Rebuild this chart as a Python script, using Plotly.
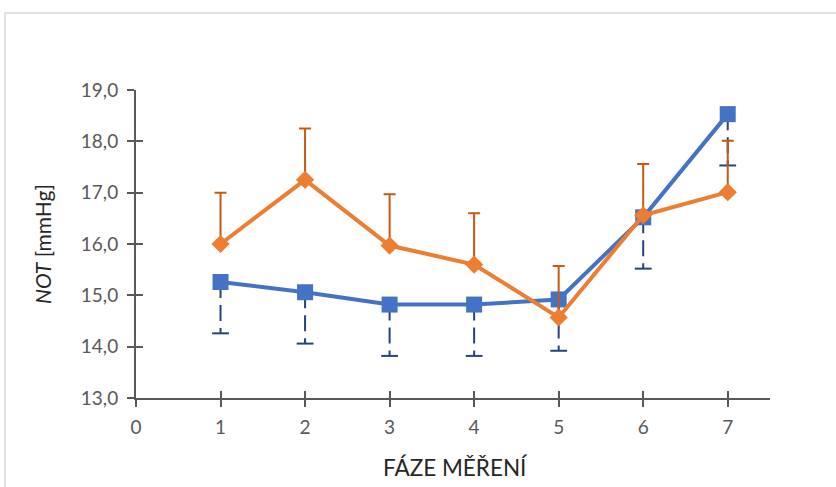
import plotly.graph_objects as go

# Measurement phases and mean values
phase = [1, 2, 3, 4, 5, 6, 7]
series_a = [15.26, 15.06, 14.82, 14.82, 14.92, 16.52, 18.53]
series_b = [16.00, 17.25, 15.97, 15.60, 14.57, 16.56, 17.01]
err_a = [1.0, 1.0, 1.0, 1.0, 1.0, 1.0, 1.0]
err_b = [1.0, 1.0, 1.0, 1.0, 1.0, 1.0, 1.0]

x_ticks = [0, 1, 2, 3, 4, 5, 6, 7]
y_ticks = [13, 14, 15, 16, 17, 18, 19]
y_tick_text = ["13,0", "14,0", "15,0", "16,0", "17,0", "18,0", "19,0"]

BLUE = "#4472C4"
BLUE_DARK = "#264478"
ORANGE = "#ED7D31"
ORANGE_DARK = "#C55A11"
AXIS = "#595959"
FONT = "Lato"

W, H = 836, 487
ML, MR, MT, MB = 136, 66, 90, 89

fig = go.Figure()

# dashed downward error bars for series A (stems + caps)
stem_x, stem_y = [], []
for x, y, e in zip(phase, series_a, err_a):
    stem_x += [x, x, None]
    stem_y += [y, y - e, None]
fig.add_trace(go.Scatter(
    x=stem_x, y=stem_y, mode="lines",
    line=dict(color=BLUE_DARK, width=2, dash="16px,7px"),
    hoverinfo="skip", showlegend=False,
))
fig.add_trace(go.Scatter(
    x=phase, y=[y - e for y, e in zip(series_a, err_a)], mode="markers",
    marker=dict(symbol="line-ew", size=12, line=dict(color=BLUE_DARK, width=2)),
    hoverinfo="skip", showlegend=False,
))

# series A line with square markers
fig.add_trace(go.Scatter(
    x=phase, y=series_a, mode="lines+markers",
    line=dict(color=BLUE, width=4),
    marker=dict(symbol="square", size=16, color=BLUE),
    showlegend=False,
))

# series B line with diamond markers and upward error bars
fig.add_trace(go.Scatter(
    x=phase, y=series_b, mode="lines+markers",
    line=dict(color=ORANGE, width=4),
    marker=dict(symbol="diamond", size=14, color=ORANGE),
    error_y=dict(type="data", array=err_b, arrayminus=[0] * len(err_b),
                 color=ORANGE_DARK, thickness=2, width=6),
    showlegend=False,
))

tick_font = dict(family=FONT, size=19, color=AXIS)

fig.update_layout(
    width=W, height=H,
    margin=dict(l=ML, r=MR, t=MT, b=MB),
    paper_bgcolor="white", plot_bgcolor="white",
    xaxis=dict(
        range=[0, 7.5], tickvals=x_ticks, ticktext=[str(v) for v in x_ticks],
        showgrid=False, zeroline=False, showline=True, linecolor=AXIS, linewidth=2,
        ticks="outside", ticklen=7, tickwidth=1.5, tickcolor=AXIS,
        tickfont=tick_font, ticklabelstandoff=4,
    ),
    yaxis=dict(
        range=[13, 19], tickvals=y_ticks, ticktext=y_tick_text,
        showgrid=False, zeroline=False, showline=True, linecolor=AXIS, linewidth=2,
        ticks="outside", ticklen=7, tickwidth=1.5, tickcolor=AXIS,
        tickfont=tick_font, ticklabelstandoff=5,
    ),
    # overlay axes carry the inner half of the crossing tick marks
    xaxis2=dict(
        overlaying="x", range=[0, 7.5], tickvals=x_ticks, showticklabels=False,
        showgrid=False, zeroline=False, showline=False,
        ticks="inside", ticklen=7, tickwidth=1.5, tickcolor=AXIS, side="bottom",
    ),
    yaxis2=dict(
        overlaying="y", range=[13, 19], tickvals=y_ticks, showticklabels=False,
        showgrid=False, zeroline=False, showline=False,
        ticks="inside", ticklen=7, tickwidth=1.5, tickcolor=AXIS, side="left",
    ),
)

# dummy trace to activate the overlay axes
fig.add_trace(go.Scatter(x=[None], y=[None], xaxis="x2", yaxis="y2",
                         showlegend=False, hoverinfo="skip"))

pw = W - ML - MR
ph = H - MT - MB

# axis titles
fig.add_annotation(
    text="FÁZE MĚŘENÍ", xref="paper", yref="paper",
    x=(455 - ML) / pw, y=(H - MB - 467) / ph, showarrow=False,
    font=dict(family=FONT, size=22.5, color="#262626"),
    xanchor="center", yanchor="middle",
)
fig.add_annotation(
    text="<i>NOT</i> [mmHg]", xref="paper", yref="paper",
    x=(42 - ML) / pw, y=(H - MB - 244) / ph, showarrow=False, textangle=-90,
    font=dict(family=FONT, size=21, color="#262626"),
    xanchor="center", yanchor="middle",
)

# light frame around the chart area
fig.add_shape(
    type="rect", xref="paper", yref="paper",
    x0=(5 - ML) / pw, x1=(W + 10 - ML) / pw,
    y0=(H - MB - (H + 10)) / ph, y1=(H - MB - 13) / ph,
    line=dict(color="#D9D9D9", width=1.5), fillcolor="rgba(0,0,0,0)", layer="below",
)

fig.write_html("out.html")
